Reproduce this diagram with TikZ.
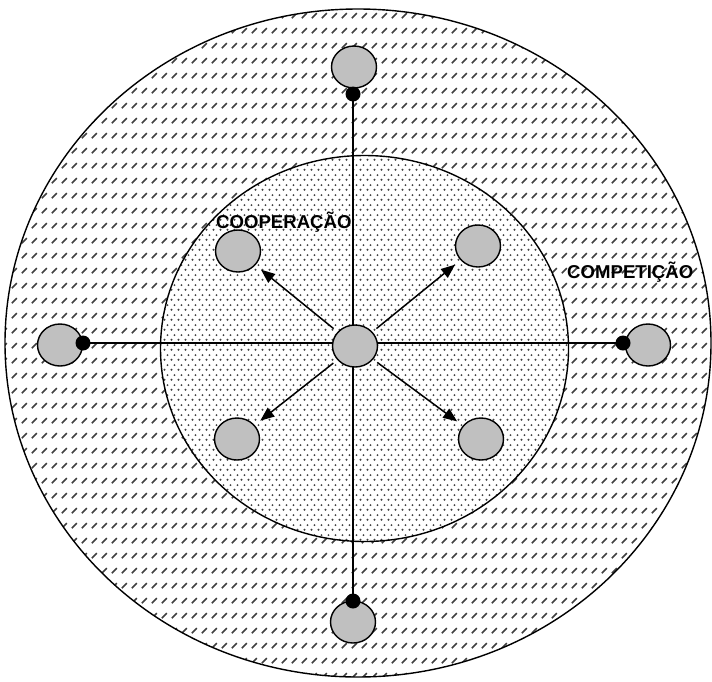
\documentclass[tikz,border=0pt]{standalone}
\usepackage{fontspec}
\setmainfont{Liberation Sans}
\usetikzlibrary{patterns.meta,arrows.meta,shapes.geometric}
\tikzdeclarepattern{name=hatchdash,type=colored,bottom left={(0pt,0pt)},top right={(10pt,15pt)},tile size={(10pt,15pt)},
  code={\draw[line width=1.7pt,black!75] (2pt,4pt)--(7.5pt,9.5pt);}}
\tikzdeclarepattern{name=dotgrid,type=colored,bottom left={(0pt,0pt)},top right={(6.5pt,10pt)},tile size={(6.5pt,10pt)},
  code={\fill[black!75] (1.6pt,2.5pt) circle (1.15pt); \fill[black!75] (4.85pt,7.5pt) circle (1.15pt);}}
\definecolor{disc}{HTML}{C0C0C0}
\tikzset{
  member/.style={ellipse,draw=black,fill=disc,line width=1.4pt,minimum width=45pt,minimum height=42pt,inner sep=0pt},
  link/.style={line width=1.5pt},
  knob/.style={fill=black},
  push/.style={line width=1.5pt,-{Triangle[length=14pt,width=11pt]},shorten <=5pt,shorten >=7pt},
  lbl/.style={font=\fontsize{18.6}{20}\selectfont\bfseries,inner sep=0pt,anchor=base west}
}
\begin{document}
\begin{tikzpicture}[x=1pt,y=-1pt]
\useasboundingbox (0,0) rectangle (712,681);
% outer region
\fill[white] (358,343) ellipse [x radius=353,y radius=334];
\fill[pattern=hatchdash] (358,343) ellipse [x radius=353,y radius=334];
\draw[line width=1.4pt] (358,343) ellipse [x radius=353,y radius=334];
% inner region
\fill[white] (364.5,348.5) ellipse [x radius=204,y radius=193];
\fill[pattern=dotgrid] (364.5,348.5) ellipse [x radius=204,y radius=193];
\draw[line width=1.4pt] (364.5,348.5) ellipse [x radius=204,y radius=193];
% connection points
\coordinate (dt) at (353,94);
\coordinate (db) at (353,601);
\coordinate (dl) at (83,343);
\coordinate (dr) at (623,343);
\draw[link] (dl) -- (dr);
\draw[link] (dt) -- (db);
% members
\node[member] (c) at (355,346) {};
\node[member] (t) at (354,67) {};
\node[member] (b) at (353,622) {};
\node[member] (l) at (60,345) {};
\node[member] (r) at (648,345) {};
\node[member] (ul) at (238,251) {};
\node[member] (ur) at (478,246) {};
\node[member] (ll) at (237,439) {};
\node[member] (lr) at (481,439) {};
\fill[knob] (dt) circle (7.5pt);
\fill[knob] (db) circle (7.5pt);
\fill[knob] (dl) circle (7.5pt);
\fill[knob] (dr) circle (7.5pt);
% arrows
\draw[push] (c) -- (ul);
\draw[push] (c) -- (ur);
\draw[push] (c) -- (ll);
\draw[push] (c) -- (lr);
% labels
\node[lbl] (coop) at (216,228) {COOPERAÇÃO};
\node[lbl] (comp) at (567,278) {COMPETIÇÃO};
\end{tikzpicture}
\end{document}
